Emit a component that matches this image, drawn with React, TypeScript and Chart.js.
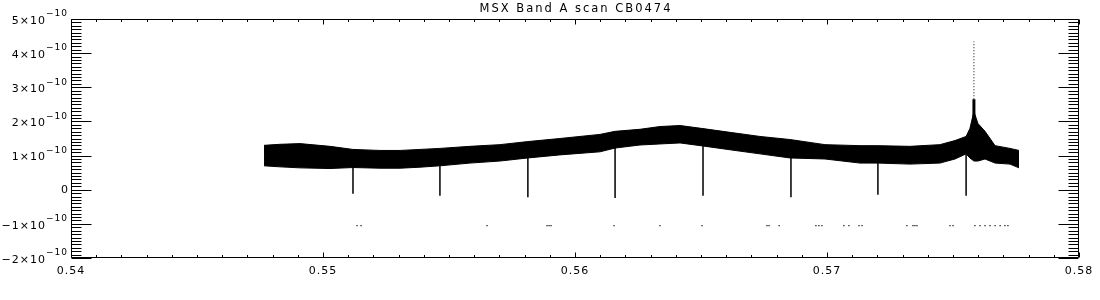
import React, { useEffect, useRef } from 'react';
import { Chart, registerables } from 'chart.js';

Chart.register(...registerables);

const TITLE = 'MSX Band A scan CB0474';
const E = 1e-10;
const X_MIN = 0.54;
const X_MAX = 0.58;
const Y_MIN = -2;
const Y_MAX = 5;

const xTickValues = [0.54, 0.55, 0.56, 0.57, 0.58];
const xTickLabels = ['0.54', '0.55', '0.56', '0.57', '0.58'];
const yTickValues = [-2, -1, 0, 1, 2, 3, 4, 5];
const yTickMantissas = ['-2', '-1', '0', '1', '2', '3', '4', '5'];
const yTickExponent = '-10';

// noisy band envelope (values in units of 1e-10)
const bandX = [0.54766, 0.54829, 0.54909, 0.55028, 0.55119, 0.55226, 0.55306, 0.55385, 0.55464, 0.55583, 0.55702, 0.55813, 0.5594, 0.56099, 0.56159, 0.56258, 0.56337, 0.56417, 0.56508, 0.56615, 0.56734, 0.56853, 0.56992, 0.57131, 0.57202, 0.57329, 0.57448, 0.57508, 0.57552, 0.57567, 0.57583, 0.57599, 0.57627, 0.57667, 0.57726, 0.57762];
const bandUpper = [1.3, 1.33, 1.35, 1.27, 1.18, 1.15, 1.15, 1.18, 1.21, 1.27, 1.32, 1.41, 1.5, 1.62, 1.71, 1.77, 1.85, 1.88, 1.79, 1.68, 1.56, 1.47, 1.32, 1.29, 1.29, 1.27, 1.32, 1.44, 1.56, 1.79, 2.29, 1.94, 1.71, 1.29, 1.21, 1.15];
const bandLower = [0.7, 0.67, 0.64, 0.62, 0.65, 0.63, 0.63, 0.66, 0.7, 0.78, 0.84, 0.93, 1.02, 1.11, 1.22, 1.31, 1.34, 1.37, 1.28, 1.17, 1.05, 0.93, 0.9, 0.78, 0.78, 0.75, 0.78, 0.9, 1.05, 0.93, 0.84, 0.84, 0.9, 0.78, 0.75, 0.64];

// downward dips
const dipX = [0.55119, 0.55464, 0.55813, 0.56159, 0.56508, 0.56857, 0.57202, 0.57552];
const dipTop = [0.9, 0.9, 1.1, 1.3, 1.4, 1.1, 0.9, 1.1];
const dipBottom = [-0.12, -0.18, -0.22, -0.24, -0.18, -0.22, -0.15, -0.18];

// narrow emission spike
const spikeX = 0.57583;
const spikeDenseY = [1.8, 2.65];
const spikeDotY = [2.65, 4.34];

// isolated points near -1e-10
const dotX = [0.55135, 0.55151, 0.55651, 0.55889, 0.55897, 0.55905, 0.56155, 0.56337, 0.56504, 0.56762, 0.5677, 0.5681, 0.56956, 0.56968, 0.5698, 0.57067, 0.57087, 0.57127, 0.57139, 0.57317, 0.57341, 0.57349, 0.57357, 0.57488, 0.575, 0.57587, 0.57607, 0.57627, 0.57647, 0.57667, 0.57687, 0.57706, 0.57718];
const dotY = -1.05;

const FONT = 'DejaVu Sans';

const spacingPlugin = {
  id: 'idlSpacing',
  beforeDraw(chart: any) {
    (chart.ctx as any).letterSpacing = '1px';
  },
};

const framePlugin = {
  id: 'idlFrame',
  afterDraw(chart: any) {
    const ctx = chart.ctx as CanvasRenderingContext2D;
    const xs = chart.scales.x;
    const ys = chart.scales.y;
    const { left, right, top, bottom } = chart.chartArea;
    const L = Math.round(left) + 0.5;
    const R = Math.round(right) - 0.5;
    const T = Math.round(top) + 0.5;
    const B = Math.round(bottom) - 0.5;
    ctx.save();
    ctx.strokeStyle = '#000';
    ctx.lineWidth = 1;
    ctx.beginPath();
    ctx.rect(L, T, R - L, B - T);
    // x ticks (inward), every 0.001
    for (let i = 540; i <= 580; i++) {
      const px = Math.round(xs.getPixelForValue(i / 1000)) + 0.5;
      const len = i % 10 === 0 ? 5 : 2.5;
      ctx.moveTo(px, B);
      ctx.lineTo(px, B - len);
      ctx.moveTo(px, T);
      ctx.lineTo(px, T + len);
    }
    // y ticks (inward), every 1e-11
    for (let i = -20; i <= 50; i++) {
      const py = Math.round(ys.getPixelForValue(i / 10 * E)) + 0.5;
      const len = i % 10 === 0 ? 20 : 10;
      ctx.moveTo(L, py);
      ctx.lineTo(L + len, py);
      ctx.moveTo(R, py);
      ctx.lineTo(R - len, py);
    }
    ctx.stroke();

    ctx.fillStyle = '#000';
    // title
    ctx.font = `11.5px "${FONT}"`;
    (ctx as any).letterSpacing = '2px';
    ctx.textAlign = 'center';
    ctx.textBaseline = 'middle';
    ctx.fillText(TITLE, (left + right) / 2 + 1, 9);

    // y labels with superscript exponent
    ctx.textAlign = 'left';
    yTickValues.forEach((v, idx) => {
      const py = ys.getPixelForValue(v * E);
      const xr = left - 3;
      if (v === 0) {
        ctx.font = `11px "${FONT}"`;
        (ctx as any).letterSpacing = '0px';
        const w = ctx.measureText('0').width;
        ctx.fillText('0', xr - w, py);
        return;
      }
      const mainTxt = yTickMantissas[idx].replace('-', '\u2212') + '\u00d710';
      const expTxt = yTickExponent.replace('-', '\u2212');
      ctx.font = `9px "${FONT}"`;
      (ctx as any).letterSpacing = '1px';
      const we = ctx.measureText(expTxt).width;
      ctx.fillText(expTxt, xr - we, py - 5);
      ctx.font = `11px "${FONT}"`;
      (ctx as any).letterSpacing = '1px';
      const wm = ctx.measureText(mainTxt).width;
      ctx.fillText(mainTxt, xr - we - wm, py + 2);
    });
    ctx.restore();
  },
};

export default function App() {
  const ref = useRef<HTMLCanvasElement | null>(null);

  useEffect(() => {
    if (!ref.current) return;
    const band = bandX.map((x, i) => ({ x, y: bandUpper[i] * E }));
    const bandLo = bandX.map((x, i) => ({ x, y: bandLower[i] * E }));
    const dips: any[] = [];
    dipX.forEach((x, i) => {
      dips.push({ x, y: dipTop[i] * E });
      dips.push({ x, y: dipBottom[i] * E });
      dips.push({ x, y: null });
    });
    const spikeDense = spikeDenseY.map((y) => ({ x: spikeX, y: y * E }));
    const spikeDots = spikeDotY.map((y) => ({ x: spikeX, y: y * E }));
    const dots = dotX.map((x) => ({ x, y: dotY * E }));

    const chart = new Chart(ref.current, {
      type: 'line',
      data: {
        datasets: [
          {
            label: 'upper',
            data: band,
            borderColor: '#000',
            backgroundColor: '#000',
            borderWidth: 1,
            pointRadius: 0,
            fill: '+1',
            tension: 0,
          },
          {
            label: 'lower',
            data: bandLo,
            borderColor: '#000',
            backgroundColor: '#000',
            borderWidth: 1,
            pointRadius: 0,
            fill: false,
            tension: 0,
          },
          {
            label: 'dips',
            data: dips,
            borderColor: '#000',
            borderWidth: 1.5,
            pointRadius: 0,
            fill: false,
            spanGaps: false,
          },
          {
            label: 'spike',
            data: spikeDense,
            borderColor: '#000',
            borderWidth: 3,
            pointRadius: 0,
            fill: false,
          },
          {
            label: 'spikeDots',
            data: spikeDots,
            borderColor: '#000',
            borderWidth: 1,
            borderDash: [1, 2],
            pointRadius: 0,
            fill: false,
          },
          {
            label: 'dots',
            data: dots,
            showLine: false,
            pointStyle: 'rect',
            pointRadius: 0.8,
            pointBorderWidth: 0,
            pointBackgroundColor: '#000',
            borderColor: '#000',
            fill: false,
          } as any,
        ],
      },
      options: {
        animation: false,
        responsive: false,
        maintainAspectRatio: false,
        layout: { padding: { left: 0, right: 21, top: 19, bottom: 0 } },
        plugins: {
          legend: { display: false },
          tooltip: { enabled: false },
          title: { display: false },
        },
        scales: {
          x: {
            type: 'linear',
            min: X_MIN,
            max: X_MAX,
            afterBuildTicks: (s: any) => {
              s.ticks = xTickValues.map((value) => ({ value }));
            },
            afterFit: (s: any) => {
              s.height = 42;
            },
            ticks: {
              color: '#000',
              font: { family: FONT, size: 11 },
              padding: 7,
              maxRotation: 0,
              autoSkip: false,
              callback: (v: any) => {
                const i = xTickValues.findIndex((t) => Math.abs(t - v) < 1e-9);
                return i >= 0 ? xTickLabels[i] : '';
              },
            },
            grid: { display: false, drawTicks: false },
            border: { display: false },
          },
          y: {
            type: 'linear',
            min: Y_MIN * E,
            max: Y_MAX * E,
            afterBuildTicks: (s: any) => {
              s.ticks = yTickValues.map((v) => ({ value: v * E }));
            },
            afterFit: (s: any) => {
              s.width = 71;
            },
            ticks: { display: false },
            grid: { display: false, drawTicks: false },
            border: { display: false },
          },
        },
      },
      plugins: [spacingPlugin, framePlugin],
    } as any);
    return () => chart.destroy();
  }, []);

  return (
    <div style={{ position: 'fixed', left: 0, top: 0, width: 1100, height: 300, background: '#fff' }}>
      <canvas ref={ref} width={1100} height={300} style={{ display: 'block', width: 1100, height: 300 }} />
    </div>
  );
}
